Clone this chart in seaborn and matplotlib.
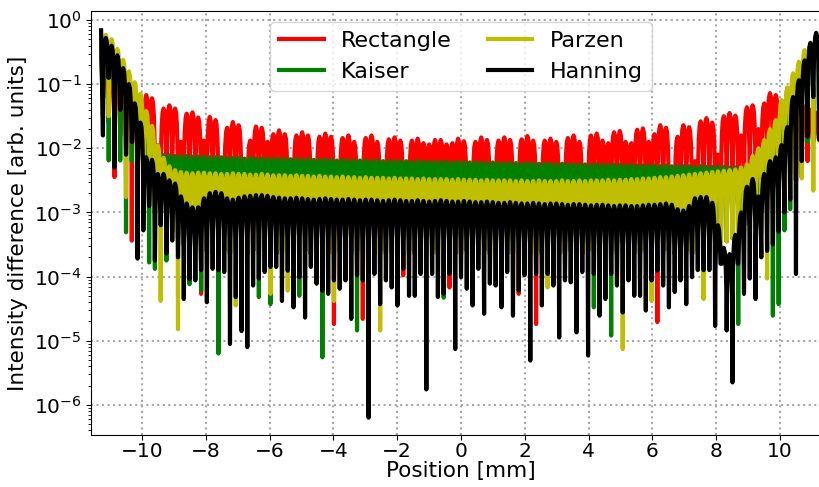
import numpy as np
import pandas as pd
import matplotlib
matplotlib.use("Agg")
import matplotlib.pyplot as plt
import seaborn as sns

# ---------------------------------------------------------------------------
# Data: intensity difference for four apodisation windows.
# Values are decade exponents (log10 of the intensity difference).
# Each trace is described fringe by fringe: one maximum per fringe and one
# minimum between neighbouring fringes.
# ---------------------------------------------------------------------------
windows = ["Rectangle", "Kaiser", "Parzen", "Hanning"]
colors = ["#ff0000", "#008000", "#bfbf00", "#000000"]

fringe_period_mm = 0.181
minimum_index = np.arange(-62, 63)          # fringe minima at index * period
x_first, x_last = -11.28, 11.28             # first / last sample position [mm]

# values at the first and last sample
rect_ends = [-0.45, -1.50]
kaiser_ends = [-0.30, -0.35]
parzen_ends = [-0.20, -0.20]
hanning_ends = [-0.16, -0.16]

# fringe maxima, fringes -62 ... 61
rect_max = [
    -0.60, -0.75, -0.90, -1.05, -1.20, -1.35, -1.30, -1.17, -1.22, -1.95,
    -1.38, -1.33, -1.38, -1.90, -1.46, -1.44, -1.52, -1.88, -1.51, -1.56,
    -2.20, -1.68, -1.59, -1.64, -2.25, -1.88, -1.66, -1.68, -1.90, -1.78,
    -1.72, -1.78, -2.30, -1.80, -1.75, -1.80, -2.30, -1.82, -1.77, -1.82,
    -2.30, -1.84, -1.80, -1.90, -2.32, -1.84, -1.80, -1.90, -2.32, -1.86,
    -1.83, -1.88, -2.32, -1.88, -1.85, -1.92, -1.94, -1.87, -1.87, -1.94,
    -1.92, -1.85, -1.89, -2.32, -1.90, -1.83, -1.87, -2.32, -1.88, -1.83,
    -1.87, -2.32, -1.86, -1.81, -1.88, -2.32, -1.88, -1.85, -1.90, -2.32,
    -1.84, -1.80, -1.90, -2.32, -1.80, -1.77, -1.88, -1.92, -1.75, -1.73,
    -1.90, -1.92, -1.71, -1.69, -1.90, -1.78, -1.64, -1.68, -2.30, -1.82,
    -1.64, -1.67, -2.20, -1.58, -1.53, -1.60, -2.10, -1.50, -1.45, -1.49,
    -1.80, -1.36, -1.33, -1.70, -1.30, -1.14, -1.17, -1.50, -1.25, -1.20,
    -1.30, -1.35, -1.40, -1.45,
]
kaiser_max = [
    -0.35, -0.45, -0.60, -0.78, -0.98, -1.18, -1.42, -1.72, -1.98, -2.10,
    -2.11, -2.11, -2.12, -2.12, -2.12, -2.13, -2.13, -2.13, -2.14, -2.14,
    -2.14, -2.15, -2.15, -2.15, -2.16, -2.15, -2.16, -2.16, -2.16, -2.17,
    -2.16, -2.17, -2.17, -2.17, -2.18, -2.17, -2.18, -2.18, -2.18, -2.18,
    -2.19, -2.18, -2.19, -2.19, -2.19, -2.19, -2.20, -2.19, -2.20, -2.20,
    -2.20, -2.20, -2.20, -2.21, -2.20, -2.21, -2.21, -2.21, -2.21, -2.21,
    -2.22, -2.21, -2.22, -2.22, -2.22, -2.22, -2.23, -2.22, -2.23, -2.23,
    -2.23, -2.23, -2.24, -2.23, -2.24, -2.24, -2.24, -2.24, -2.25, -2.24,
    -2.25, -2.25, -2.25, -2.25, -2.26, -2.25, -2.26, -2.26, -2.26, -2.26,
    -2.27, -2.26, -2.27, -2.27, -2.27, -2.27, -2.28, -2.27, -2.28, -2.28,
    -2.28, -2.28, -2.29, -2.28, -2.29, -2.29, -2.29, -2.29, -2.30, -2.30,
    -2.30, -2.31, -2.30, -2.25, -2.10, -1.90, -1.72, -1.45, -1.25, -1.02,
    -0.85, -0.65, -0.50, -0.38,
]
parzen_max = [
    -0.23, -0.30, -0.45, -0.62, -0.80, -0.97, -1.15, -1.42, -1.65, -1.95,
    -2.15, -2.28, -2.34, -2.37, -2.38, -2.39, -2.38, -2.38, -2.39, -2.39,
    -2.40, -2.40, -2.39, -2.40, -2.40, -2.41, -2.41, -2.40, -2.41, -2.42,
    -2.42, -2.42, -2.43, -2.42, -2.43, -2.43, -2.44, -2.43, -2.44, -2.44,
    -2.45, -2.44, -2.45, -2.45, -2.46, -2.45, -2.46, -2.46, -2.46, -2.47,
    -2.46, -2.47, -2.47, -2.47, -2.48, -2.47, -2.48, -2.48, -2.48, -2.48,
    -2.49, -2.48, -2.49, -2.49, -2.49, -2.50, -2.49, -2.50, -2.50, -2.50,
    -2.50, -2.51, -2.50, -2.51, -2.51, -2.50, -2.51, -2.51, -2.51, -2.50,
    -2.51, -2.51, -2.50, -2.51, -2.50, -2.50, -2.50, -2.49, -2.50, -2.49,
    -2.49, -2.48, -2.48, -2.47, -2.47, -2.46, -2.45, -2.45, -2.44, -2.43,
    -2.42, -2.41, -2.40, -2.39, -2.38, -2.37, -2.36, -2.35, -2.34, -2.33,
    -2.30, -2.25, -2.12, -2.00, -1.87, -1.70, -1.56, -1.25, -1.05, -0.83,
    -0.65, -0.47, -0.35, -0.22,
]
hanning_max = [
    -0.28, -0.40, -0.55, -0.75, -1.00, -1.30, -1.60, -2.14, -2.18, -2.40,
    -2.40, -2.50, -2.55, -2.75, -2.86, -2.92, -2.92, -2.78, -2.70, -2.68,
    -2.70, -2.78, -2.80, -2.77, -2.75, -2.74, -2.73, -2.73, -2.74, -2.76,
    -2.77, -2.78, -2.78, -2.77, -2.78, -2.79, -2.80, -2.79, -2.78, -2.79,
    -2.80, -2.80, -2.79, -2.80, -2.81, -2.80, -2.80, -2.81, -2.82, -2.81,
    -2.80, -2.81, -2.82, -2.82, -2.81, -2.82, -2.83, -2.82, -2.81, -2.82,
    -2.83, -2.83, -2.82, -2.83, -2.84, -2.84, -2.83, -2.84, -2.85, -2.85,
    -2.84, -2.85, -2.86, -2.86, -2.85, -2.86, -2.87, -2.86, -2.86, -2.87,
    -2.88, -2.87, -2.87, -2.88, -2.89, -2.88, -2.88, -2.89, -2.90, -2.89,
    -2.89, -2.90, -2.90, -2.89, -2.88, -2.88, -2.87, -2.86, -2.88, -2.95,
    -2.97, -2.90, -2.78, -2.76, -2.76, -2.85, -3.20, -3.55, -3.65, -3.35,
    -3.00, -2.60, -2.48, -2.75, -2.40, -2.20, -2.14, -1.95, -1.67, -1.20,
    -0.94, -0.63, -0.36, -0.20,
]

# fringe minima, indices -62 ... 62
rect_min = [
    -1.20, -1.60, -2.45, -1.80, -2.00, -3.44, -3.00, -2.80, -2.60, -3.00,
    -3.10, -3.20, -3.30, -3.40, -3.50, -3.50, -3.60, -4.27, -3.60, -3.55,
    -3.60, -3.60, -3.65, -3.60, -3.65, -3.60, -3.60, -3.65, -3.60, -3.60,
    -3.65, -3.60, -3.60, -3.65, -3.60, -3.60, -3.65, -3.60, -3.60, -3.65,
    -4.74, -3.60, -3.65, -3.60, -3.60, -4.66, -3.60, -3.65, -3.60, -3.60,
    -3.65, -3.60, -3.98, -3.60, -3.65, -3.60, -3.60, -3.65, -3.60, -3.60,
    -4.17, -3.60, -3.65, -3.60, -3.60, -3.65, -3.60, -3.60, -3.65, -3.60,
    -3.60, -3.65, -4.27, -3.60, -3.65, -4.74, -3.60, -3.65, -3.60, -3.60,
    -3.65, -3.60, -3.60, -3.65, -3.60, -3.60, -3.65, -3.60, -3.60, -3.65,
    -3.60, -3.60, -3.65, -3.60, -3.60, -3.65, -4.71, -3.60, -3.60, -3.65,
    -3.60, -3.60, -3.65, -3.60, -3.60, -3.55, -3.50, -3.50, -3.45, -3.40,
    -3.30, -3.20, -3.10, -3.00, -2.90, -2.80, -2.70, -2.60, -2.50, -2.40,
    -2.50, -2.45, -2.20, -1.85, -1.85,
]
kaiser_min = [
    -1.50, -2.19, -1.90, -2.19, -3.31, -2.20, -3.00, -3.00, -3.78, -3.88,
    -3.10, -3.75, -3.30, -3.40, -3.50, -4.12, -3.60, -4.22, -3.60, -3.65,
    -5.20, -3.60, -3.65, -3.60, -3.60, -3.65, -3.60, -4.32, -3.60, -4.43,
    -3.65, -3.60, -3.60, -3.65, -4.30, -3.60, -3.65, -3.60, -5.26, -3.60,
    -3.65, -3.60, -3.60, -3.65, -4.84, -3.60, -3.65, -3.60, -3.60, -3.65,
    -3.60, -3.60, -3.65, -3.60, -3.60, -3.65, -3.60, -3.60, -3.65, -4.33,
    -3.60, -3.65, -3.60, -3.60, -3.65, -3.60, -3.60, -3.65, -3.60, -3.60,
    -3.65, -3.60, -3.60, -3.65, -3.60, -3.60, -3.65, -3.60, -3.60, -3.65,
    -3.60, -3.60, -3.65, -3.60, -3.60, -4.48, -3.65, -3.60, -4.92, -3.60,
    -3.65, -3.60, -3.60, -3.65, -3.60, -3.60, -3.65, -3.60, -3.60, -3.65,
    -3.60, -3.60, -3.65, -3.60, -3.60, -3.55, -3.50, -3.50, -3.45, -3.40,
    -4.74, -3.30, -3.20, -3.10, -3.00, -2.95, -4.61, -4.43, -3.28, -2.95,
    -2.50, -2.40, -1.90, -1.90, -1.50,
]
parzen_min = [
    -1.00, -1.50, -1.60, -1.30, -2.76, -1.80, -2.60, -2.70, -2.80, -3.00,
    -4.38, -3.20, -3.30, -4.82, -3.50, -3.60, -3.60, -3.65, -3.60, -3.60,
    -3.65, -3.60, -3.60, -4.45, -3.65, -3.60, -3.60, -3.65, -3.60, -4.27,
    -3.60, -3.65, -4.22, -3.60, -3.65, -3.60, -3.60, -4.11, -3.60, -3.65,
    -4.38, -3.60, -3.60, -3.65, -3.60, -3.60, -3.65, -3.60, -4.84, -3.60,
    -3.65, -3.60, -3.60, -3.65, -3.60, -3.60, -3.65, -3.60, -3.60, -3.65,
    -3.60, -3.60, -3.65, -3.60, -3.60, -3.65, -3.60, -3.60, -3.65, -3.60,
    -3.60, -3.65, -3.60, -3.60, -3.65, -3.60, -3.60, -4.17, -3.60, -3.65,
    -3.60, -3.60, -3.65, -3.60, -3.60, -3.65, -3.60, -3.60, -3.65, -3.60,
    -5.13, -3.60, -3.65, -3.60, -3.60, -4.38, -3.60, -3.65, -3.60, -3.60,
    -3.65, -3.60, -3.60, -3.65, -4.35, -3.60, -3.55, -3.50, -3.45, -3.40,
    -3.35, -3.30, -3.20, -3.10, -3.00, -4.03, -2.90, -2.80, -2.70, -2.60,
    -2.50, -2.47, -1.70, -2.66, -1.30,
]
hanning_min = [
    -1.80, -0.90, -2.30, -1.40, -2.10, -1.90, -3.72, -3.28, -2.90, -3.75,
    -3.20, -3.64, -3.44, -3.70, -4.35, -4.04, -4.06, -3.90, -4.40, -3.88,
    -3.90, -3.93, -5.05, -4.32, -4.85, -5.10, -4.14, -4.03, -3.93, -3.85,
    -3.85, -4.38, -3.91, -4.48, -4.01, -4.64, -3.85, -4.11, -4.22, -4.27,
    -4.06, -4.19, -4.06, -4.66, -3.98, -4.06, -6.20, -3.96, -4.43, -4.06,
    -4.17, -4.45, -3.88, -4.30, -4.30, -3.96, -5.76, -3.96, -4.32, -4.27,
    -3.96, -5.13, -4.01, -4.19, -4.45, -3.88, -4.58, -4.11, -4.14, -4.48,
    -3.93, -4.61, -4.22, -3.98, -5.31, -3.96, -4.45, -3.96, -4.14, -4.95,
    -4.06, -4.09, -4.87, -3.93, -5.23, -3.96, -4.61, -4.35, -3.96, -4.14,
    -4.56, -4.06, -4.30, -4.30, -4.53, -4.06, -3.91, -4.14, -4.48, -4.24,
    -4.06, -4.43, -4.01, -3.90, -3.90, -3.90, -4.77, -3.80, -4.84, -5.65,
    -3.80, -4.27, -4.03, -4.35, -3.70, -3.60, -3.50, -3.30, -3.00, -2.80,
    -3.96, -2.20, -1.82, -1.20, -1.87,
]

series_max = [rect_max, kaiser_max, parzen_max, hanning_max]
series_min = [rect_min, kaiser_min, parzen_min, hanning_min]
series_ends = [rect_ends, kaiser_ends, parzen_ends, hanning_ends]

# Shape of one fringe between two minima (fraction of the period and the
# drop below the fringe maximum in decades) -- a rounded cap with narrow dips.
cap_u = np.array([0.07, 0.17, 0.32, 0.50, 0.68, 0.83, 0.93])
cap_drop = np.array([0.62, 0.28, 0.07, 0.00, 0.07, 0.28, 0.62])


def fringe_trace(maxima, minima, ends):
    centres = minimum_index * fringe_period_mm
    xs, ys = [x_first], [ends[0]]
    for i, c in enumerate(centres):
        xs.append(c)
        ys.append(minima[i])
        if i < len(maxima):
            for u, d in zip(cap_u, cap_drop):
                floor = minima[i] if u < 0.5 else minima[i + 1]
                xs.append(c + u * fringe_period_mm)
                ys.append(max(maxima[i] - d, floor))
    xs.append(x_last)
    ys.append(ends[1])
    return np.array(xs), 10.0 ** np.array(ys)


frames = []
for name, mx, mn, ends in zip(windows, series_max, series_min, series_ends):
    x, y = fringe_trace(mx, mn, ends)
    frames.append(pd.DataFrame({"position": x, "difference": y, "window": name}))
df = pd.concat(frames, ignore_index=True)

# ---------------------------------------------------------------------------
# Figure
# ---------------------------------------------------------------------------
W, H = 820, 487
fig = plt.figure(figsize=(W / 100, H / 100), dpi=100)
ax = fig.add_axes([91.5 / W, (H - 435) / H, 739 / W, 424.3 / H])

sns.lineplot(data=df, x="position", y="difference", hue="window",
             hue_order=windows, palette=colors, estimator=None, sort=False,
             linewidth=3.0, legend=False, ax=ax)

ax.set_yscale("log")
ax.set_xlim(-11.58, 11.58)
ax.set_ylim(10 ** -6.47, 10 ** 0.145)
ax.set_xticks(np.arange(-10, 11, 2))
ax.set_yticks([10.0 ** e for e in range(-6, 1)])

ax.grid(True, which="major", linestyle=":", color="#a8a8a8", linewidth=1.5)
ax.tick_params(axis="both", which="major", labelsize=14.5)
ax.tick_params(axis="x", which="major", pad=1.5)

ax.set_xlabel("Position [mm]", fontsize=15.5, labelpad=0)
ax.set_ylabel("Intensity difference [arb. units]", fontsize=15.5)

ax.legend(ax.get_lines()[:4], windows, ncol=2, loc="upper center",
          fontsize=16, handlelength=2.0, columnspacing=1.6)

fig.savefig("out.png", dpi=100)
